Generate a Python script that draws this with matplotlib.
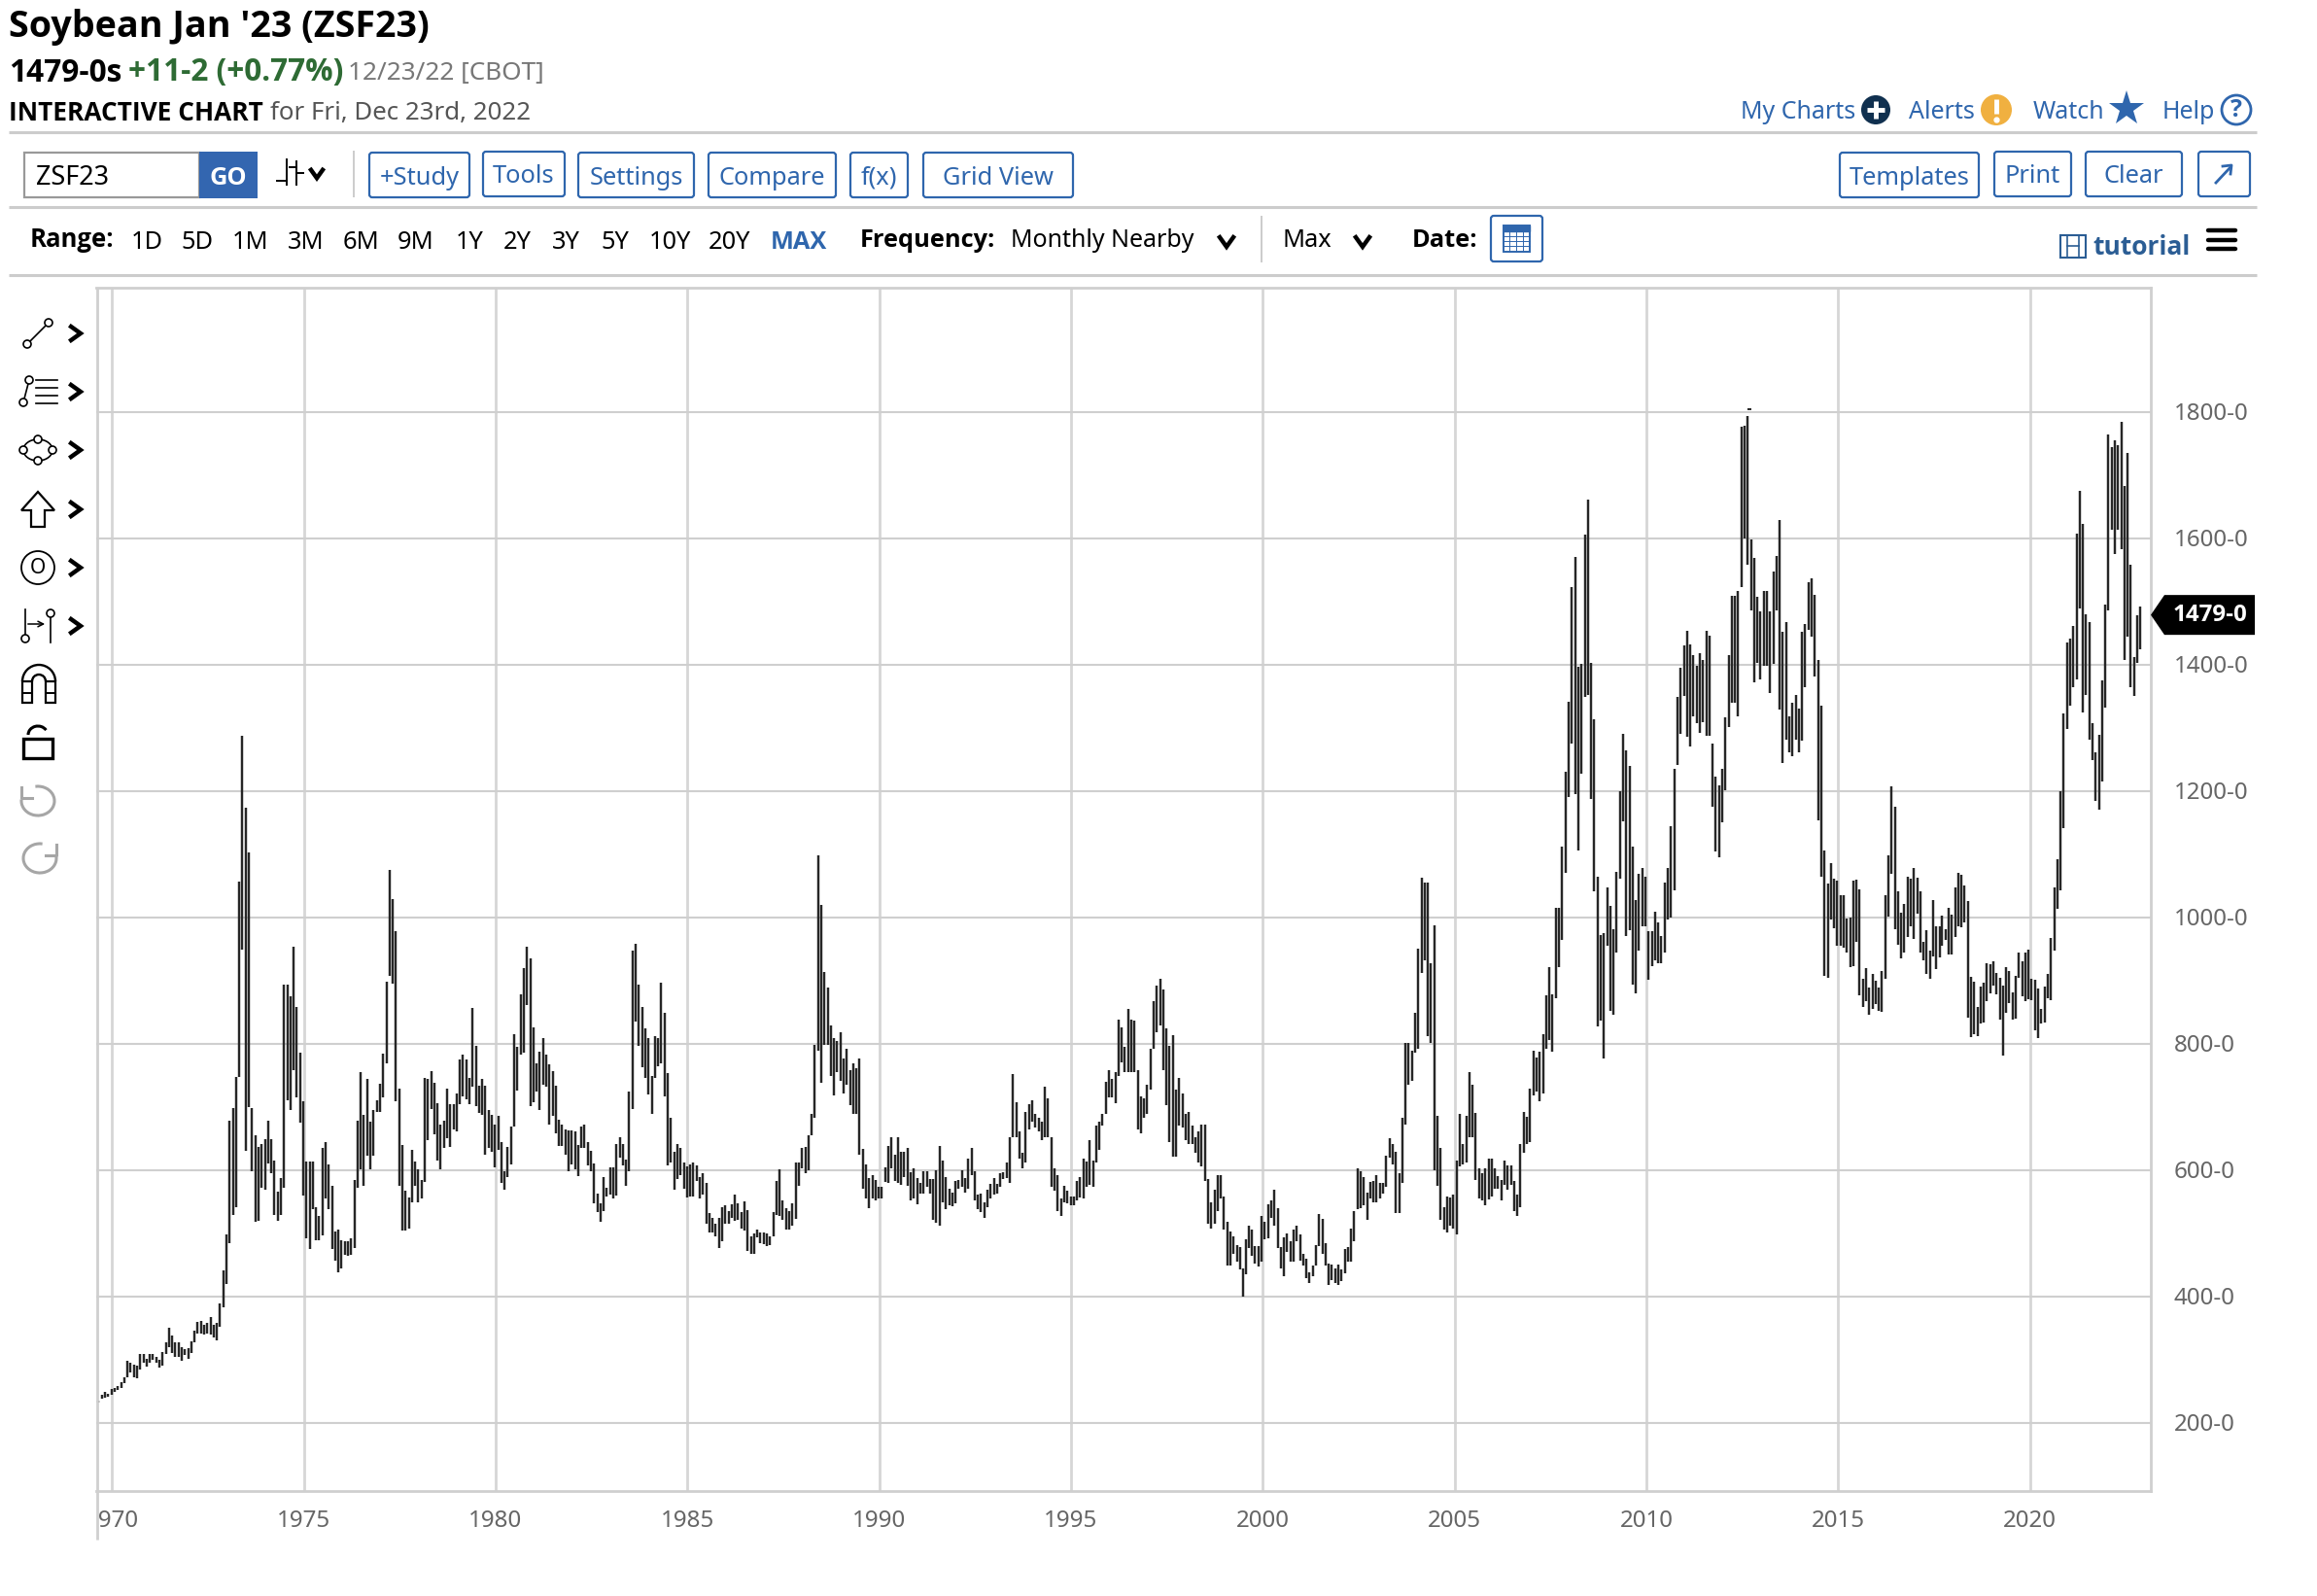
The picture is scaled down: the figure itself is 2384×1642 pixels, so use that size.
import matplotlib
matplotlib.use("Agg")
import matplotlib.pyplot as plt
import numpy as np
from matplotlib.patches import Circle, FancyBboxPatch, Polygon, Rectangle, Arc
from matplotlib.transforms import Bbox, ScaledTranslation

plt.rcParams['font.family'] = ['Noto Sans', 'DejaVu Sans']

W, H = 2384, 1642

# monthly bars, one block per stretch of the chart, first bar position in years
start_a = 1969.65
highs_a = [236,245,249,246,254,256,258,265,272,298,296,292,
           291,309,309,302,310,309,305,300,312,327,351,338,
           328,327,320,317,318,329,346,360,361,356,359,368,
           355,358,389,442,499,679,698,747,1057,1288,1174,1103,
           699,655,637,642,649,679,649,616,566,587,894,894,
           876,954,858,786,710,614,614,614,541,527,635,644,
           609,576,503,506,490,488,487,492,585,679,755,687,
           744,677,695,711,737,785,898,1075,1029,979,730,640,
           567,557,633,614,602,585,746,744,757,739,706,673,
           679,730,704,704,722,776,783,776,746,857,797,734,
           744,734,695,688,673,686,644,598,637,670,815,795,
           879,920,954,936,826,769,787,810,783,767,757,734,
           680,673,664,663,663,662,640,670,673,644,631,611,
           563,547,589,573,605,605,642,652,642,617,725,948,
           959,894,858,824,810,750,813,810,897,850,754]
lows_a = [232,238,240,241,245,250,252,256,263,272,280,273,
          271,285,296,289,296,300,296,287,291,309,320,311,
          304,305,298,307,301,311,328,342,342,340,342,340,
          335,331,352,383,420,485,530,542,747,949,631,700,
          598,519,520,573,570,611,596,529,520,529,572,711,
          695,759,715,675,560,492,475,539,490,490,497,556,
          538,475,457,439,444,466,464,466,477,573,602,576,
          623,602,623,692,692,715,770,907,895,710,575,505,
          505,507,550,576,550,556,582,647,697,657,616,601,
          635,651,637,664,662,704,717,713,704,732,702,691,
          688,625,635,629,604,633,580,570,589,610,669,726,
          783,786,861,702,708,724,696,735,732,672,686,658,
          638,639,625,598,609,602,591,635,635,607,598,548,
          534,519,536,558,562,556,560,620,607,576,598,697,
          836,797,763,746,720,689,746,764,770,717,607]

start_b = 1984.57
highs_b = [683,630,642,636,613,606,609,613,608,590,596,580,
           533,525,515,524,541,544,536,546,562,547,534,551,
           537,496,500,506,502,501,500,496,534,583,602,553,
           540,536,547,612,613,636,637,655,689,798,1098,1020,
           914,889,830,809,805,819,777,793,759,769,761,777,
           634,609,587,593,585,574,574,605,638,653,624,653,
           630,630,635,597,603,587,580,599,599,586,586,600,
           639,616,590,571,565,583,585,600,588,618,636,599,
           561,563,550,569,578,588,578,595,597,612,653,753,
           708,661,627,693,705,711,689,683,677,732,714,653,
           603,593,555,575,568,559,559,583,590,618,614,647,
           615,671,677,689,740,758,744,755,838,826,795,855,
           839,837,758,717,714,736,793,867,892,903,886,824,
           797,814,727,746,722,689,693,671,652,662,672,672,
           586,550,569,593,593,558,518,503,496,481,478,444]
lows_b = [612,569,586,592,571,557,559,559,583,556,561,515,
          502,502,496,477,488,516,516,524,520,521,508,504,
          473,468,468,494,484,483,480,481,496,530,528,521,
          506,506,512,523,575,603,595,600,655,683,790,739,
          799,799,750,718,756,742,722,736,703,689,689,624,
          571,556,540,556,553,555,556,581,580,603,583,580,
          577,589,575,553,556,546,563,563,574,563,521,517,
          513,550,539,544,543,547,571,574,565,571,592,553,
          539,534,524,541,556,562,563,574,586,587,580,653,
          652,618,603,612,665,677,668,662,648,653,653,574,
          568,536,527,550,547,544,544,553,557,556,574,577,
          574,612,632,671,689,716,716,706,749,771,756,756,
          756,755,665,659,683,689,728,792,818,830,758,703,
          645,621,621,671,668,648,642,642,627,612,606,583,
          515,508,515,536,556,506,449,449,468,456,443,400]

start_c = 1999.55
highs_c = [491,513,506,480,480,528,518,546,553,569,540,478,
           494,500,488,506,512,498,467,460,439,449,481,531,
           523,484,452,451,445,451,443,475,478,507,536,603,
           598,590,565,581,583,592,580,580,623,651,641,630,
           596,683,802,802,790,849,950,1063,1055,1055,927,988,
           686,635,541,559,557,561,615,690,641,686,756,736,
           691,603,596,603,618,619,603,591,585,615,608,608,
           583,561,641,693,685,730,789,778,787,815,877,921,
           878,1015,1015,1113]
lows_c = [435,477,465,453,447,456,491,493,524,512,477,444,
          433,471,456,456,488,457,449,429,422,433,450,480,
          467,450,419,426,421,418,425,437,456,456,487,539,
          540,544,522,556,550,549,556,563,574,620,610,533,
          532,580,673,736,742,786,792,913,933,813,801,600,
          575,521,506,502,512,507,498,606,609,612,653,653,
          585,556,553,544,554,559,571,571,553,577,569,577,
          536,528,541,628,641,644,718,724,709,721,792,806,
          788,873,922,964]

start_d = 2007.89
highs_d = [1230,1342,1523,1570,1397,1401,1606,1662,1403,1314,1065,973,
           976,1047,1019,981,1072,1200,1290,1264,1240,1113,1028,1069,
           1079,1065,978,978,1009,992,971,1055,1079,1144,1235,1349,
           1395,1431,1454,1432,
           1415,1399,1419,1408,1454,1446,1276,1223,1209,1235,1317,1415,
           1509,1509,1517,1777,1779,1794,1599,1569,1508,1484,1517,1517,
           1484,1547,1573,1629,1453,1467,1318,1340,1353,1331,1452,1465,
           1530,1537,1510,1408,1336,1106,1054,1086,1062,1058,1036,1036,
           999,1000,1058,1060,1045,903,920,889,910,900,889,916,
           1036,1098,1208,1176,1041,1007,1021,1065,1062,1079,1063,1041,
           962,980,947,1028,986,986]
lows_d = [1070,1191,1275,1196,1106,1228,1349,1353,1187,1041,827,837,
          777,955,853,846,944,1062,1152,971,980,894,880,947,
          986,986,901,923,932,928,928,945,997,1000,1043,1242,
          1290,1350,1286,1271,
          1319,1307,1292,1309,1288,1288,1175,1104,1095,1151,1202,1301,
          1340,1340,1319,1523,1600,1558,1486,1372,1403,1377,1398,1398,
          1355,1401,1486,1329,1244,1281,1262,1256,1281,1261,1280,1364,
          1455,1445,1381,1154,1065,907,905,997,983,956,956,952,
          945,921,923,961,877,859,868,846,855,863,853,851,
          903,1001,1069,981,957,935,944,969,986,966,1006,945,
          932,911,903,938,918,937]

start_e = 2017.71
highs_e = [1003,981,1015,1004,1048,1070,1067,1050,1026,906,899,859,
           891,897,928,926,931,912,905,892,921,916,882,908,
           945,930,944,949,903,901,887,856,891,910,967,1047,
           1093,1200,1323,1436,1441,1461,1607,1676,1623,1480,1467,1307,
           1262,1289,1375,1496,1765,1744,1756,1747,1784,1683,1736,1558,
           1413,1478,1492]
lows_e = [956,965,942,942,969,986,985,993,842,811,816,813,
          833,834,868,880,893,878,838,782,849,864,839,840,
          904,875,868,871,870,822,810,832,834,873,870,947,
          1014,1043,1142,1299,1336,1364,1377,1489,1325,1353,1281,1249,
          1185,1171,1216,1333,1486,1614,1576,1614,1583,1408,1444,1364,
          1351,1403,1425]

segments = [(start_a, highs_a, lows_a), (start_b, highs_b, lows_b), (start_c, highs_c, lows_c),
            (start_d, highs_d, lows_d), (start_e, highs_e, lows_e)]

y_ticks = [200, 400, 600, 800, 1000, 1200, 1400, 1600, 1800]
x_ticks = [1970, 1975, 1980, 1985, 1990, 1995, 2000, 2005, 2010, 2015, 2020]
last_price = 1479
last_label = "1479-0"
peak_year, peak_tick = 2012.69, 1805

BLUE = "#2f66ad"
GRID = "#cfcfcf"
BOLD_FONT = ['Open Sans', 'DejaVu Sans']

fig = plt.figure(figsize=(W / 100, H / 100), dpi=100, facecolor="white")

# the chart itself
left, right, top, bottom = 99, 2213, 296, 1534
ax = fig.add_axes([left / W, 1 - bottom / H, (right - left) / W, (bottom - top) / H])
ax.set_xlim(1969.587, 2023.147)
ax.set_ylim(1800 - (bottom - 424) / 0.65, 1800 + (424 - top) / 0.65)
ax.grid(True, axis="y", color=GRID, lw=1.5)
ax.grid(True, axis="x", color="#d6d6d6", lw=2.0)
ax.set_axisbelow(True)
for s in ax.spines.values():
    s.set_color(GRID)
    s.set_linewidth(2.0)
ax.spines["left"].set_visible(False)

for start, hi, lo in segments:
    xs = start + np.arange(len(hi)) / 12
    ax.vlines(xs, lo, hi, color="#262626", lw=1.75, zorder=3)
ax.hlines(peak_tick, peak_year - 0.05, peak_year + 0.05, color="#262626", lw=1.4, zorder=3)

ax.yaxis.tick_right()
ax.set_yticks(y_ticks)
ax.set_yticklabels(["%d-0" % v for v in y_ticks], color="#666666", fontsize=17.4, va="center")
ax.set_xticks(x_ticks)
ax.set_xticklabels([str(v) for v in x_ticks], color="#666666", fontsize=17.4)
ax.tick_params(axis="both", length=0)
ax.tick_params(axis="y", pad=17)
ax.tick_params(axis="x", pad=14)
# nudge the price labels down a little
nudge = ScaledTranslation(0, -2 / 100, fig.dpi_scale_trans)
for lbl in ax.get_yticklabels():
    lbl.set_transform(lbl.get_transform() + nudge)
# first year label is cut by the left edge of the chart
for lbl in ax.get_xticklabels()[:1]:
    lbl.set_clip_box(Bbox([[left + 1, 0], [W, H]]))
    lbl.set_clip_on(True)

# page furniture in pixel coordinates
ui = fig.add_axes([0, 0, 1, 1], zorder=5)
ui.set_xlim(0, W)
ui.set_ylim(H, 0)
ui.axis("off")
ui.patch.set_alpha(0)

def label(x, y, s, size=18.3, color="black", weight="normal", ha="left"):
    if weight == "bold":
        ui.text(x, y, s, fontsize=size, color=color, fontweight="bold", family=BOLD_FONT, ha=ha, va="center")
    else:
        ui.text(x, y, s, fontsize=size, color=color, ha=ha, va="center")

def hline(y, x0=9, x1=2322, color="#cccccc", lw=2.2):
    ui.plot([x0, x1], [y, y], color=color, lw=lw, solid_capstyle="butt")

def vline(x, y0, y1, color="#cccccc", lw=1.4):
    ui.plot([x, x], [y0, y1], color=color, lw=lw, solid_capstyle="butt")

def button(x0, x1, s, y0=157, y1=203):
    ui.add_patch(FancyBboxPatch((x0, y0), x1 - x0, y1 - y0, boxstyle="round,pad=0,rounding_size=3",
                                fc="white", ec=BLUE, lw=1.6))
    if s:
        label((x0 + x1) / 2, (y0 + y1) / 2 + 3, s, color=BLUE, ha="center", size=18.3)

def chevron(x, y, s=7, color="black"):
    ui.plot([x - s, x, x + s], [y - s * 0.7, y + s * 0.7, y - s * 0.7], color=color, lw=3.2, solid_joinstyle="miter")

def chevron_r(x, y, s=7):
    ui.plot([x - s * 0.7, x + s * 0.7, x - s * 0.7], [y - s, y, y + s], color="black", lw=3.2, solid_joinstyle="miter")

# left edge of the chart runs past the axis
vline(left + 1, 296, 1584, color=GRID, lw=2.0)

# header
label(9, 28, "Soybean Jan '23 (ZSF23)", size=27.1, weight="bold")
label(9, 75, "1479-0s", size=22.8, weight="bold")
label(132, 75, "+11-2 (+0.77%)", size=22.7, weight="bold", color="#2e6b34")
label(358, 76, "12/23/22 [CBOT]", size=18.8, color="#777777")
label(9, 116, "INTERACTIVE CHART", size=18.9, weight="bold")
label(278, 116, "for Fri, Dec 23rd, 2022", size=18.6, color="#555555")

hline(136)
hline(213)
hline(283)

# top links
label(1791, 115, "My Charts", color=BLUE, size=18)
ui.add_patch(Circle((1930, 113), 15, fc="#10304f", ec="none"))
ui.plot([1921, 1939], [113, 113], color="white", lw=3.5, solid_capstyle="butt")
ui.plot([1930, 1930], [104, 122], color="white", lw=3.5, solid_capstyle="butt")
label(1964, 115, "Alerts", color=BLUE, size=18)
ui.add_patch(Circle((2054, 113), 16, fc="#f0b040", ec="none"))
ui.plot([2054, 2054], [102, 117], color="white", lw=3.5, solid_capstyle="butt")
ui.plot([2054], [123], "o", color="white", ms=3.5)
label(2092, 115, "Watch", color=BLUE, size=18)
ui.plot([2188], [112], marker="*", color=BLUE, ms=27, mew=0)
label(2225, 115, "Help", color=BLUE, size=18)
ui.add_patch(Circle((2301, 113), 15, fc="white", ec=BLUE, lw=2))
label(2301, 113, "?", color=BLUE, weight="bold", ha="center", size=18)

# symbol box and buttons
ui.add_patch(Rectangle((25, 157), 180, 46, fc="white", ec="#999999", lw=1.6))
label(37, 183, "ZSF23", size=19.5)
ui.add_patch(Rectangle((205, 156), 60, 48, fc="#3366b0", ec="none"))
label(235, 183, "GO", color="white", weight="bold", ha="center", size=18.3)
ui.plot([295, 295], [164, 190], color="black", lw=1.4)
ui.plot([285, 295], [186, 186], color="black", lw=1.4)
ui.plot([305, 305], [166, 190], color="black", lw=1.4)
ui.plot([305, 312], [178, 178], color="black", lw=1.4)
ui.plot([298, 305], [172, 172], color="black", lw=1.4)
chevron(326, 179, 6)
vline(364, 155, 203)

button(380, 483, "+Study")
button(497, 581, "Tools", y0=156, y1=202)
button(595, 714, "Settings")
button(729, 860, "Compare")
button(875, 934, "f(x)")
button(950, 1104, "Grid View")
button(1893, 2036, "Templates")
button(2052, 2131, "Print", y0=156, y1=202)
button(2146, 2245, "Clear", y0=156, y1=202)
button(2262, 2315, "", y0=156, y1=202)
ui.plot([2280, 2295], [188, 172], color=BLUE, lw=2)
ui.plot([2287, 2296, 2295], [171, 170, 179], color=BLUE, lw=2)

# range row
label(31, 247, "Range:", weight="bold", size=18.5)
range_labels = ["1D", "5D", "1M", "3M", "6M", "9M", "1Y", "2Y", "3Y", "5Y", "10Y", "20Y"]
range_x = [151, 203, 258, 315, 372, 428, 483, 532, 582, 633, 689, 751]
for x, s in zip(range_x, range_labels):
    label(x, 249, s, ha="center")
label(822, 249, "MAX", weight="bold", color=BLUE, ha="center")
label(885, 247, "Frequency:", weight="bold")
label(1040, 247, "Monthly Nearby", size=18)
chevron(1262, 249)
vline(1298, 222, 270)
label(1319, 247, "Max")
chevron(1402, 249)
label(1453, 247, "Date:", weight="bold")
button(1534, 1587, "", y0=222, y1=269)
ui.add_patch(Rectangle((1547, 232), 27, 27, fc="white", ec=BLUE, lw=1.4))
ui.add_patch(Rectangle((1547, 232), 27, 6, fc=BLUE, ec=BLUE, lw=1))
for gx in [1553, 1560, 1567]:
    ui.plot([gx, gx], [238, 259], color=BLUE, lw=0.7)
for gy in [243, 248, 253]:
    ui.plot([1547, 1574], [gy, gy], color=BLUE, lw=0.7)

# tutorial link and menu
ui.add_patch(Rectangle((2120, 242), 26, 23, fc="white", ec="#2b5d94", lw=1.5))
ui.plot([2127, 2127], [242, 265], color="#2b5d94", lw=1.2)
ui.plot([2139, 2139], [242, 265], color="#2b5d94", lw=1.2)
ui.plot([2127, 2139], [253, 253], color="#2b5d94", lw=1.2)
label(2153, 255, "tutorial", weight="bold", color="#2b5d94", size=19)
for hy in [237, 247, 256]:
    ui.plot([2272, 2300], [hy, hy], color="black", lw=3.2, solid_capstyle="round")

# drawing tools down the left side
tool_y = [343, 403, 463, 524, 584, 644, 703, 764, 824, 883]
for y in tool_y[:6]:
    chevron_r(78, y, 7)

def ring(x, y, r=4):
    ui.add_patch(Circle((x, y), r, fc="white", ec="black", lw=1.2, zorder=6))

y = tool_y[0]
ui.plot([28, 50], [y + 11, y - 11], color="black", lw=1.2)
ring(28, y + 11)
ring(50, y - 11)

y = tool_y[1]
ui.plot([24, 30], [y + 11, y - 12], color="black", lw=1.2)
ring(24, y + 11)
ring(30, y - 12)
for dy in [-12, -4, 4, 12]:
    ui.plot([37, 59], [y + dy, y + dy], color="black", lw=1.2)

y = tool_y[2]
t = np.linspace(0, 2 * np.pi, 60)
ui.plot(39 + 15 * np.cos(t), y + 11 * np.sin(t), color="black", lw=1.2)
for dx, dy in [(-15, 0), (15, 0), (0, -11), (0, 11)]:
    ring(39 + dx, y + dy)

y = tool_y[3]
ui.add_patch(Polygon([(39, y - 18), (56, y + 1), (46, y + 1), (46, y + 18), (32, y + 18), (32, y + 1), (22, y + 1)],
                     fc="white", ec="black", lw=1.6))

y = tool_y[4]
ui.add_patch(Circle((39, y), 17, fc="white", ec="black", lw=1.3))
label(39, y, "O", size=15, ha="center")

y = tool_y[5]
ui.plot([26, 26], [y - 17, y + 9], color="black", lw=1.2)
ring(26, y + 13)
ui.plot([52, 52], [y - 9, y + 17], color="black", lw=1.2)
ring(52, y - 13)
ui.annotate("", xy=(49, y - 2), xytext=(26, y - 2), arrowprops=dict(arrowstyle="->", color="black", lw=1.1))

y = tool_y[6]
ui.add_patch(Arc((40, y - 2), 34, 34, theta1=180, theta2=360, color="black", lw=1.7))
ui.add_patch(Arc((40, y - 2), 14, 14, theta1=180, theta2=360, color="black", lw=1.7))
ui.add_patch(Rectangle((23, y - 2), 10, 22, fc="white", ec="black", lw=1.6))
ui.add_patch(Rectangle((47, y - 2), 10, 22, fc="white", ec="black", lw=1.6))
ui.plot([23, 33], [y + 10, y + 10], color="black", lw=1.4)
ui.plot([47, 57], [y + 10, y + 10], color="black", lw=1.4)

y = tool_y[7]
ui.add_patch(Rectangle((24, y - 4), 30, 20, fc="white", ec="black", lw=2.4))
ui.add_patch(Arc((39, y - 8), 20, 18, theta1=180, theta2=330, color="black", lw=2.2))

# undo and redo, greyed out
y = tool_y[8]
ui.add_patch(Arc((39, y), 34, 30, theta1=-100, theta2=185, color="#a6a6a6", lw=2.2))
ui.plot([22, 22, 33], [y - 14, y - 3, y - 3], color="#a6a6a6", lw=2.2)
y = tool_y[9]
ui.add_patch(Arc((41, y), 34, 30, theta1=-5, theta2=280, color="#a6a6a6", lw=2.2))
ui.plot([58, 58, 47], [y - 14, y - 3, y - 3], color="#a6a6a6", lw=2.2)

# price flag
flag_y = H - ax.transData.transform((2000, last_price))[1]
ui.add_patch(Polygon([(2213, flag_y), (2227, flag_y - 20.5), (2320, flag_y - 20.5), (2320, flag_y + 20.5), (2227, flag_y + 20.5)],
                     fc="black", ec="none"))
label(2274, flag_y, last_label, color="white", weight="bold", ha="center", size=17.4)

fig.savefig("out.png", dpi=100, facecolor="white")
